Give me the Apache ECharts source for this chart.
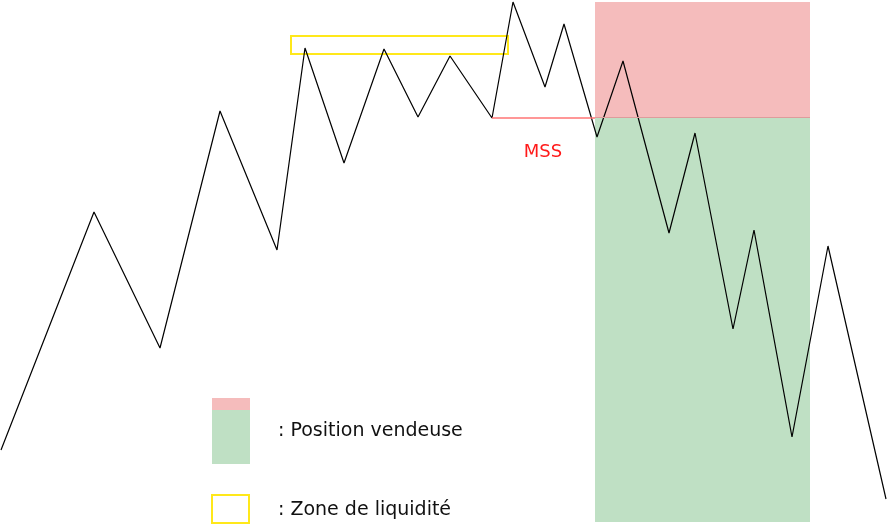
<!DOCTYPE html>
<html>
<head>
<meta charset="utf-8">
<script src="https://cdn.jsdelivr.net/npm/echarts@6/dist/echarts.min.js"></script>
<style>html,body{margin:0;padding:0;background:#fff}#c{width:887px;height:529px}</style>
</head>
<body>
<div id="c"></div>
<script>
// Price path (x position, price value)
var pathX = [1, 94, 160, 220, 277, 305, 344, 384, 418, 450, 492, 513, 545, 564, 597, 623, 669, 695, 733, 754, 792, 828, 886];
var pathY = [79, 317, 181, 418, 279, 481, 366, 480, 412, 473, 411, 527, 442, 505, 392, 468, 296, 396, 200, 299, 92, 283, 30];
// Zones
var sellStopZone = [[595, 412], [810, 527]];
var sellTargetZone = [[595, 7], [810, 412]];
var liquidityZone = [[291, 475], [508, 493]];
var mssLine = [[492, 411], [595, 411]];
var mssLabel = [543, 377];
var legendLabels = [': Position vendeuse', ': Zone de liquidité'];

var FONT = '"DejaVu Sans", sans-serif';
var chart = echarts.init(document.getElementById('c'));
var lineData = pathX.map(function (x, i) { return [x, pathY[i]]; });

chart.setOption({
  animation: false,
  backgroundColor: '#fff',
  grid: { left: 0, right: 0, top: 0, bottom: 0 },
  xAxis: { type: 'value', min: 0, max: 887, show: false },
  yAxis: { type: 'value', min: 0, max: 529, show: false },
  series: [
    {
      type: 'line', data: [], z: 1, silent: true,
      markArea: {
        silent: true,
        data: [
          [{ coord: sellStopZone[0], itemStyle: { color: '#f5bcbc' } }, { coord: sellStopZone[1] }],
          [{ coord: sellTargetZone[0], itemStyle: { color: '#bfe0c4' } }, { coord: sellTargetZone[1] }],
          [{ coord: liquidityZone[0], itemStyle: { color: 'rgba(0,0,0,0)', borderColor: '#ffe81a', borderWidth: 2 } }, { coord: liquidityZone[1] }]
        ]
      },
      markLine: {
        silent: true, symbol: 'none', label: { show: false },
        lineStyle: { color: '#ff7575', width: 1.5, type: 'solid' },
        data: [[{ coord: mssLine[0] }, { coord: mssLine[1] }],
               [{ coord: [595, 412], lineStyle: { color: '#dd9c9c', width: 1 } }, { coord: [810, 412] }]]
      },
      markPoint: {
        silent: true, symbol: 'circle', symbolSize: 0,
        label: { show: true, position: 'inside', formatter: 'MSS', color: '#ff1a1a', fontSize: 18, fontFamily: FONT },
        data: [{ coord: mssLabel }]
      }
    },
    {
      type: 'line', data: lineData, z: 3, symbol: 'none', silent: true,
      lineStyle: { color: '#000', width: 1.2 }
    }
  ],
  graphic: [
    { type: 'rect', shape: { x: 212, y: 398, width: 38, height: 12 }, style: { fill: '#f5bcbc' } },
    { type: 'rect', shape: { x: 212, y: 410, width: 38, height: 54 }, style: { fill: '#bfe0c4' } },
    { type: 'rect', shape: { x: 212, y: 495, width: 37, height: 28 }, style: { fill: 'none', stroke: '#ffe81a', lineWidth: 2 } },
    { type: 'text', x: 278, y: 431, style: { text: legendLabels[0], fill: '#111', font: '19px ' + FONT, verticalAlign: 'middle' } },
    { type: 'text', x: 278, y: 510, style: { text: legendLabels[1], fill: '#111', font: '19px ' + FONT, verticalAlign: 'middle' } }
  ]
});
</script>
</body>
</html>
